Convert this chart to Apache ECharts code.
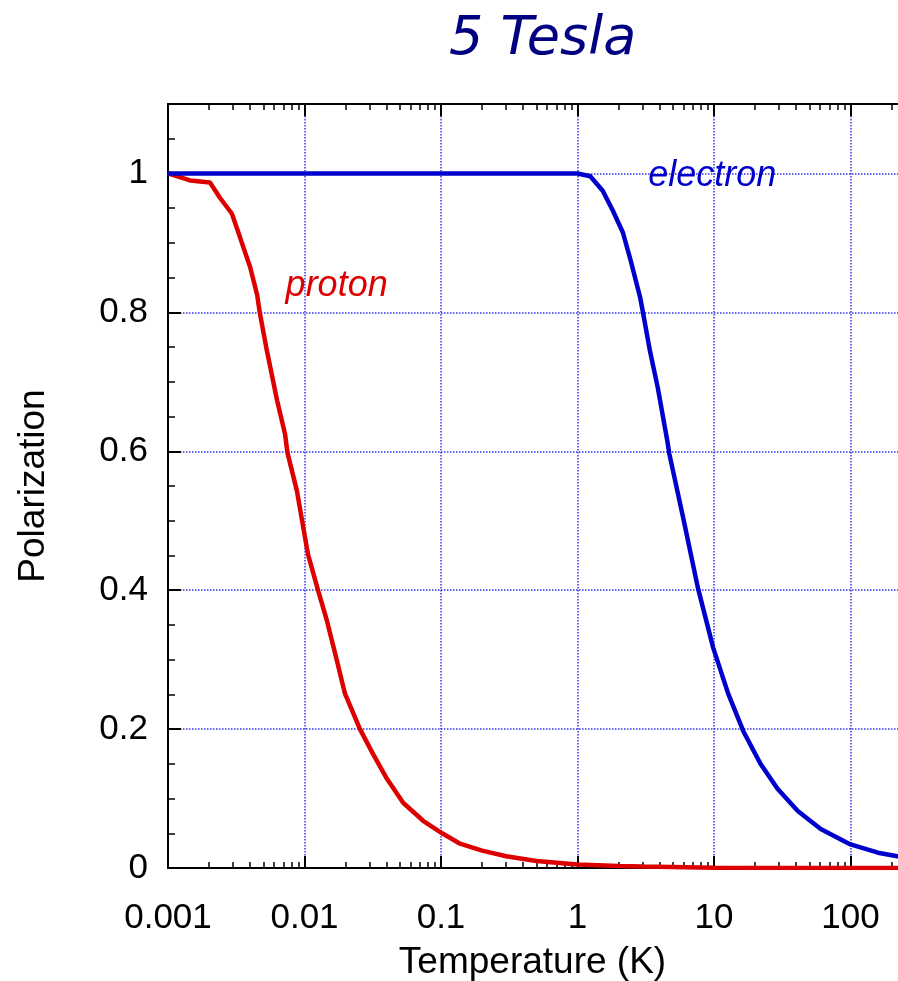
<!DOCTYPE html>
<html>
<head>
<meta charset="utf-8">
<title>5 Tesla</title>
<script src="https://cdn.jsdelivr.net/npm/echarts@6/dist/echarts.min.js"></script>
<style>
  html, body { margin: 0; padding: 0; background: #fff; }
  #main { width: 898px; height: 981px; }
</style>
</head>
<body>
<div id="main"></div>
<script>
// values
const protonT = [0.001, 0.00145, 0.00203, 0.0024, 0.00294, 0.00337, 0.004, 0.0045, 0.0047, 0.0053, 0.0063, 0.0072,
  0.0075, 0.0088, 0.0098, 0.0106, 0.0126, 0.0146, 0.0173, 0.0198, 0.0255, 0.0318, 0.0403, 0.0528, 0.074, 0.102,
  0.138, 0.2, 0.3, 0.5, 1, 2, 3, 10, 100, 1000];
const protonP = [1.0, 0.99, 0.987, 0.965, 0.942, 0.908, 0.865, 0.825, 0.80, 0.745, 0.673, 0.625,
  0.598, 0.543, 0.49, 0.452, 0.399, 0.356, 0.298, 0.251, 0.20, 0.164, 0.128, 0.094, 0.068, 0.050,
  0.035, 0.025, 0.017, 0.010, 0.005, 0.003, 0.002, 0.0005, 0, 0];

const electronT = [0.001, 1, 1.24, 1.53, 1.81, 2.15, 2.45, 2.88, 3.03, 3.39, 3.87, 4.55, 4.7, 5.95, 7.63, 9.87,
  12.7, 16.4, 21.9, 29.2, 41.1, 60.5, 100, 159, 220, 500, 1000];
const electronP = [1, 1, 0.996, 0.975, 0.947, 0.915, 0.875, 0.821, 0.798, 0.745, 0.692, 0.615, 0.597, 0.504, 0.403, 0.317,
  0.251, 0.197, 0.150, 0.114, 0.082, 0.056, 0.034, 0.022, 0.017, 0.0067, 0.0034];

// axis ticks
const xLabels = ['0.001', '0.01', '0.1', '1', '10', '100'];
const minorSteps = [2, 3, 4, 5, 6, 7, 8, 9];
const yLabels = [0, 0.2, 0.4, 0.6, 0.8, 1];

let chart = null;

function pairs(xs, ys) {
  return xs.map(function (x, i) { return [x, ys[i]]; });
}

// minor tick spots, in decades (log10), for the helper value axes
function minorDecadeTicks() {
  let out = [];
  for (let d = -3; d < 3; d++) {
    minorSteps.forEach(function (m) { out.push(d + Math.log10(m)); });
  }
  return out;
}

function initChart() {
  chart = echarts.init(document.getElementById('main'), null, { renderer: 'canvas' });

  const textFont = "'Liberation Sans', Arial, sans-serif";
  const gridLine = { show: true, lineStyle: { color: '#3333ee', width: 1.5, type: 'dotted' } };
  const frame = { show: true, onZero: false, lineStyle: { color: '#000', width: 2 } };
  const noLine = { show: false, onZero: false };
  const majorTick = { show: true, inside: true, length: 12, lineStyle: { color: '#000', width: 2 } };
  const minorTick = { show: true, inside: true, length: 6, customValues: minorDecadeTicks(), lineStyle: { color: '#000', width: 1.5 } };
  const logCommon = { type: 'log', logBase: 10, min: 0.001, max: 1000 };
  const minorCommon = {
    type: 'value', min: -3, max: 3,
    axisLine: noLine, axisTick: minorTick, axisLabel: { show: false }, splitLine: { show: false }
  };

  let option = {
    animation: false,
    backgroundColor: '#fff',
    title: {
      text: '5 Tesla',
      left: 444,
      top: 8,
      textStyle: {
        fontFamily: "'DejaVu Sans', sans-serif",
        fontStyle: 'italic',
        fontWeight: 'normal',
        fontSize: 54,
        color: '#000080'
      }
    },
    grid: { left: 168, top: 104, bottom: 113, right: -89, outerBoundsMode: 'none', containLabel: false },
    xAxis: [
      Object.assign({}, logCommon, {
        position: 'bottom',
        name: 'Temperature (K)',
        nameLocation: 'middle',
        nameGap: 76,
        nameTextStyle: { fontFamily: textFont, fontSize: 37, color: '#000', padding: [0, 90, 0, 0] },
        axisLine: frame,
        axisTick: majorTick,
        axisLabel: {
          margin: 33, fontFamily: textFont, fontSize: 35, color: '#000',
          formatter: function (v) {
            let s = String(+(+v).toPrecision(3));
            return xLabels.indexOf(s) >= 0 ? s : '';
          }
        },
        splitLine: gridLine
      }),
      Object.assign({}, minorCommon, { position: 'bottom' }),
      Object.assign({}, logCommon, {
        position: 'top',
        axisLine: frame,
        axisTick: majorTick,
        axisLabel: { show: false },
        splitLine: { show: false }
      }),
      Object.assign({}, minorCommon, { position: 'top' })
    ],
    yAxis: [
      {
        type: 'value',
        position: 'left',
        min: 0,
        max: 1.1,
        interval: 0.2,
        name: 'Polarization',
        nameLocation: 'middle',
        nameRotate: 90,
        nameGap: 116,
        nameTextStyle: { fontFamily: textFont, fontSize: 37, color: '#000' },
        axisLine: frame,
        axisTick: { show: true, inside: true, length: 13, lineStyle: { color: '#000', width: 2 } },
        axisLabel: {
          margin: 20,
          fontFamily: textFont,
          fontSize: 35,
          color: '#000',
          padding: [0, 0, 8, 0],
          formatter: function (v) {
            return yLabels.indexOf(+v.toFixed(2)) >= 0 ? String(+v.toFixed(2)) : '';
          }
        },
        splitLine: gridLine
      },
      {
        type: 'value',
        position: 'left',
        min: 0,
        max: 1.1,
        interval: 0.05,
        axisLine: noLine,
        axisTick: { show: true, inside: true, length: 7, lineStyle: { color: '#000', width: 1.5 } },
        axisLabel: { show: false },
        splitLine: { show: false }
      }
    ],
    series: [
      {
        name: 'proton',
        type: 'line',
        xAxisIndex: 0,
        yAxisIndex: 0,
        showSymbol: false,
        data: pairs(protonT, protonP),
        lineStyle: { color: '#dd0000', width: 4.5 },
        markPoint: {
          symbol: 'circle',
          symbolSize: 1,
          itemStyle: { color: 'transparent' },
          label: {
            show: true, position: 'inside', formatter: 'proton',
            fontFamily: textFont, fontStyle: 'italic', fontSize: 36, color: '#dd0000'
          },
          data: [{ coord: [0.0172, 0.838] }]
        }
      },
      {
        name: 'electron',
        type: 'line',
        xAxisIndex: 0,
        yAxisIndex: 0,
        showSymbol: false,
        data: pairs(electronT, electronP),
        lineStyle: { color: '#0000cc', width: 4.5 },
        markPoint: {
          symbol: 'circle',
          symbolSize: 1,
          itemStyle: { color: 'transparent' },
          label: {
            show: true, position: 'inside', formatter: 'electron',
            fontFamily: textFont, fontStyle: 'italic', fontSize: 36, color: '#0000cc'
          },
          data: [{ coord: [9.7, 0.996] }]
        }
      }
    ]
  };

  chart.setOption(option);
  return chart;
}

initChart();
</script>
</body>
</html>
